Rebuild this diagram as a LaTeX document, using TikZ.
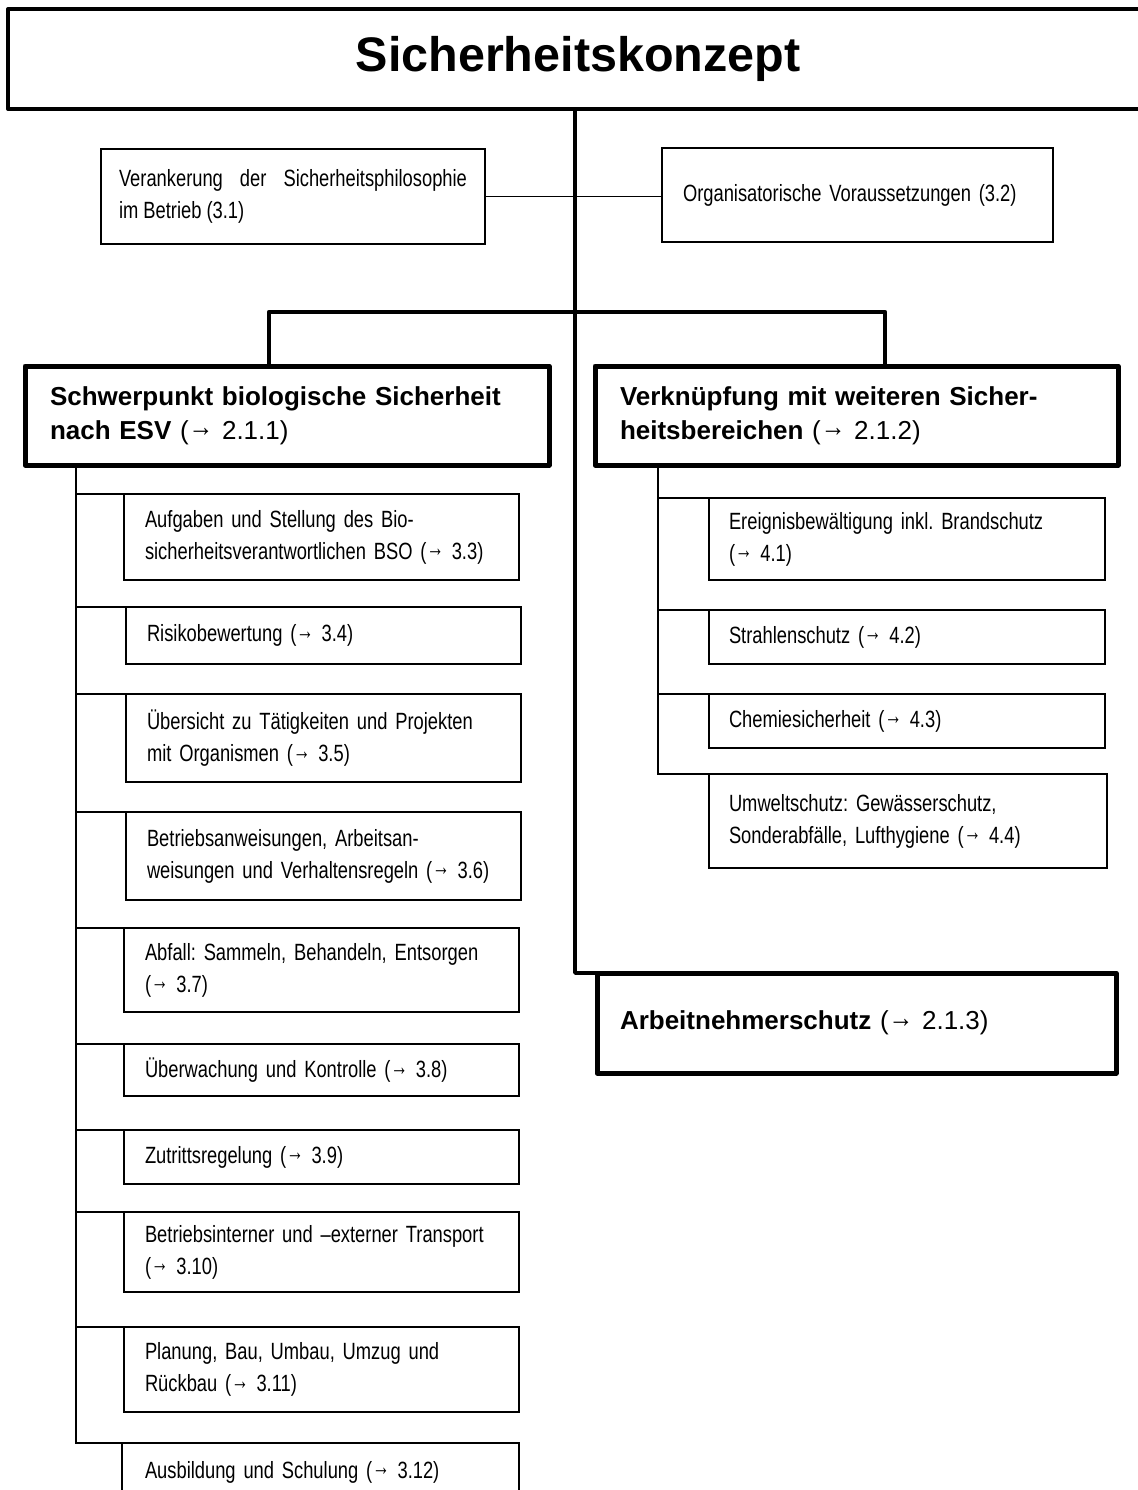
\documentclass[tikz,border=0pt]{standalone}
\usepackage{fontspec}
\usepackage{graphicx}
\setmainfont{Liberation Sans}
\newfontfamily\narrowfont{Liberation Sans}[FakeStretch=0.78]
\newcommand\smallfont{\narrowfont\fontsize{23.5}{32}\selectfont\frenchspacing}
\newcommand\headfont{\fontsize{26}{34}\selectfont\frenchspacing}
\newcommand\titlefont{\fontsize{48.5}{58}\selectfont\bfseries}
\newcommand\arr{\raisebox{0.1em}{\scalebox{0.95}[1.1]{→}}}
\newcommand\mkbox[8]{% style, name, x1, y1, x2, y2, pad, text
  \pgfmathsetmacro\mkbw{#5-#3}%
  \pgfmathsetmacro\mkbh{#6-#4}%
  \pgfmathsetmacro\mktw{#5-#3-2*#7}%
  \node[#1, minimum width=\mkbw pt, minimum height=\mkbh pt, text width=\mktw pt,
        inner xsep=#7pt, anchor=north west] (#2) at (#3,#4) {#8};}
\tikzset{
  titlebox/.style={draw, line width=4pt, line join=round, outer sep=0pt, inner ysep=2pt, align=center, font=\titlefont},
  headbox/.style={draw, line width=5pt, line join=round, outer sep=0pt, inner ysep=2pt, align=left, font=\headfont},
  smallbox/.style={draw, line width=1.7pt, outer sep=0pt, inner ysep=2pt, align=left, font=\smallfont},
  justbox/.style={draw, line width=1.7pt, outer sep=0pt, inner ysep=2pt, align=justify, font=\smallfont},
  mainline/.style={line width=3.6pt, line join=round, line cap=round},
  barline/.style={line width=4.5pt, line join=round, line cap=round},
  thinline/.style={line width=1.5pt}
}
\begin{document}
\begin{tikzpicture}[x=1pt, y=-1pt]
\fill[white] (0,0) rectangle (1137,1490);
\useasboundingbox (0,0) rectangle (1137,1490);

% title
\mkbox{titlebox}{title}{8}{9}{1148}{109}{10}{Sicherheitskonzept}

% top boxes
\mkbox{justbox}{v31}{101}{149}{485}{244}{18}{Verankerung der Sicherheitsphilosophie\linebreak im Betrieb (3.1)}
\mkbox{smallbox}{v32}{662}{148}{1053}{242}{21}{Organisatorische Voraussetzungen (3.2)}

% headers
\mkbox{headbox}{hL}{25}{366}{549}{465}{25}{\textbf{Schwerpunkt biologische Sicherheit}\\\textbf{nach ESV} (\arr{} 2.1.1)}
\mkbox{headbox}{hR}{595}{366}{1118}{465}{25}{\textbf{Verknüpfung mit weiteren Sicher-}\\\textbf{heitsbereichen} (\arr{} 2.1.2)}
\mkbox{headbox}{arb}{597}{973}{1116}{1073}{23}{\textbf{Arbeitnehmerschutz} (\arr{} 2.1.3)}

% left column
\mkbox{smallbox}{L1}{124}{494}{519}{580}{21}{Aufgaben und Stellung des Bio-\\sicherheitsverantwortlichen BSO (\arr{} 3.3)}
\mkbox{smallbox}{L2}{126}{607}{521}{664}{21}{Risikobewertung (\arr{} 3.4)}
\mkbox{smallbox}{L3}{126}{694}{521}{782}{21}{Übersicht zu Tätigkeiten und Projekten\\mit Organismen (\arr{} 3.5)}
\mkbox{smallbox}{L4}{126}{812}{521}{900}{21}{Betriebsanweisungen, Arbeitsan-\\weisungen und Verhaltensregeln (\arr{} 3.6)}
\mkbox{smallbox}{L5}{124}{928}{519}{1012}{21}{Abfall: Sammeln, Behandeln, Entsorgen\\(\arr{} 3.7)}
\mkbox{smallbox}{L6}{124}{1044}{519}{1096}{21}{Überwachung und Kontrolle (\arr{} 3.8)}
\mkbox{smallbox}{L7}{124}{1130}{519}{1184}{21}{Zutrittsregelung (\arr{} 3.9)}
\mkbox{smallbox}{L8}{124}{1212}{519}{1292}{21}{Betriebsinterner und –externer Transport\\(\arr{} 3.10)}
\mkbox{smallbox}{L9}{124}{1327}{519}{1412}{21}{Planung, Bau, Umbau, Umzug und\\Rückbau (\arr{} 3.11)}
\mkbox{smallbox}{L10}{122}{1443}{519}{1501}{23}{Ausbildung und Schulung (\arr{} 3.12)}

% right column
\mkbox{smallbox}{R1}{709}{498}{1105}{580}{20}{Ereignisbewältigung inkl. Brandschutz\\(\arr{} 4.1)}
\mkbox{smallbox}{R2}{709}{610}{1105}{664}{20}{Strahlenschutz (\arr{} 4.2)}
\mkbox{smallbox}{R3}{709}{694}{1105}{748}{20}{Chemiesicherheit (\arr{} 4.3)}
\mkbox{smallbox}{R4}{709}{774}{1107}{868}{20}{Umweltschutz: Gewässerschutz,\\Sonderabfälle, Lufthygiene (\arr{} 4.4)}

% helper coordinates
\coordinate (mx) at (575,0);
\coordinate (barL) at (269,312);
\coordinate (barR) at (885,312);
\coordinate (lx) at (76,0);
\coordinate (rx) at (658,0);

% connectors
\draw[thinline] (v31.east) -- (v31.east -| v32.west);
\draw[mainline] (title.south -| mx) |- (arb.north west);
\draw[barline] (hL.north -| barL) |- (barR) -- (hR.north -| barR);

\draw[thinline] (hL.south -| lx) -- (L10.north west -| lx) -- (L10.north west);
\foreach \b in {L1,L2,L3,L4,L5,L6,L7,L8,L9}
  \draw[thinline] (\b.north west -| lx) -- (\b.north west);

\draw[thinline] (hR.south -| rx) -- (R4.north west -| rx) -- (R4.north west);
\foreach \b in {R1,R2,R3}
  \draw[thinline] (\b.north west -| rx) -- (\b.north west);
\end{tikzpicture}
\end{document}
